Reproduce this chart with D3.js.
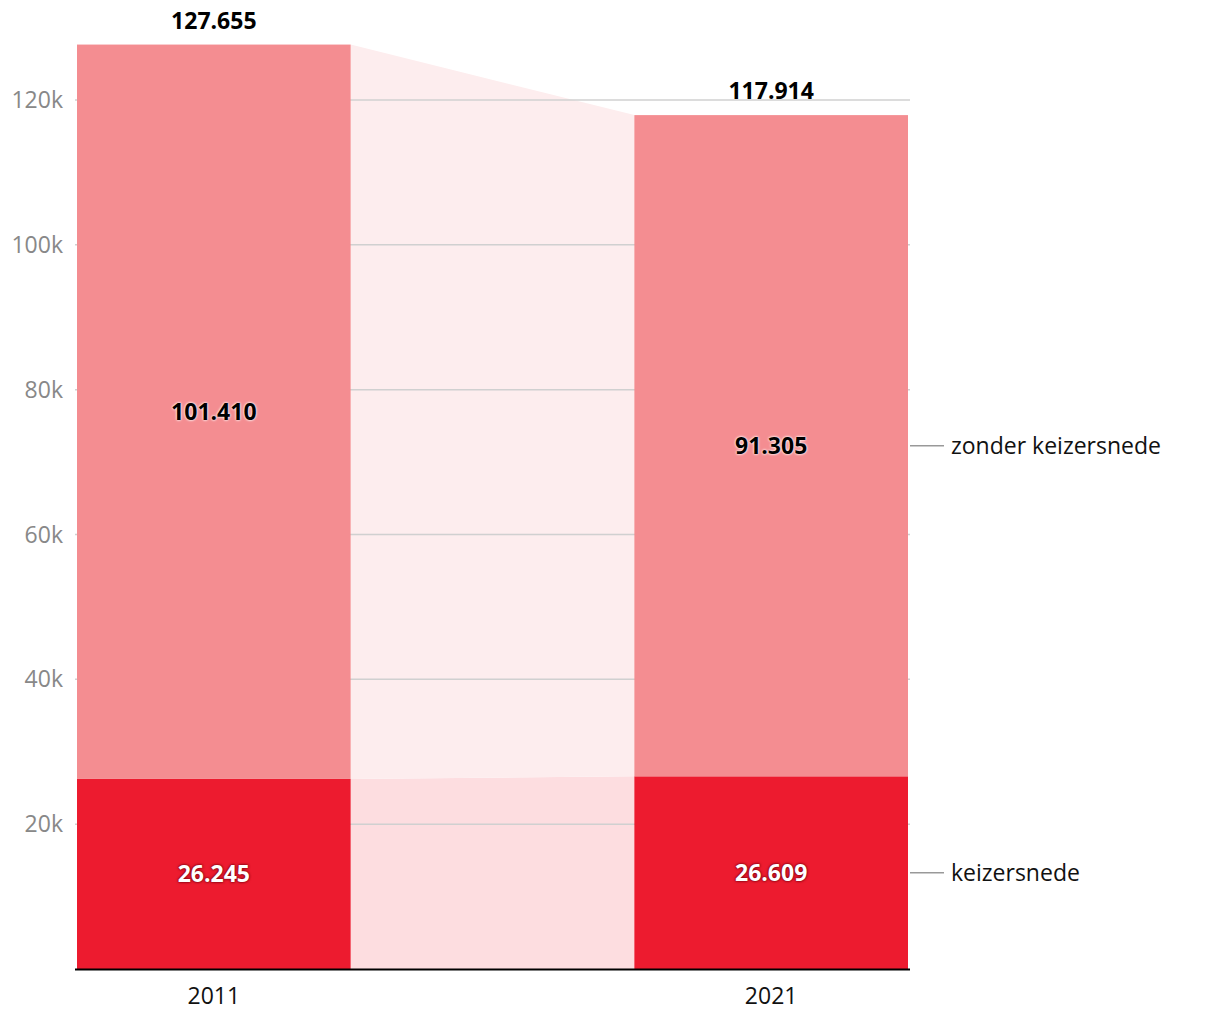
<!DOCTYPE html>
<html><head><meta charset="utf-8">
<script src="https://cdn.jsdelivr.net/npm/d3@7"></script>
<style>
body{margin:0;background:#fff;}
svg text{font-family:"Open Sans",Lato,sans-serif;}
.lbl-dark{text-shadow:0 0 3px #fff,0 0 2px #fff;}
.lbl-light{text-shadow:0 0 3px #7a0010,0 0 2px #7a0010;}
</style></head>
<body>
<svg id="c" width="1220" height="1020"></svg>
<script>
const years = ["2011", "2021"];
const series = ["keizersnede", "zonder keizersnede"];
const keizersnede = [26245, 26609];
const zonderKeizersnede = [101410, 91305];
const totals = [127655, 117914];
const yTicks = [20000, 40000, 60000, 80000, 100000, 120000];

(function () {
const colors = {"keizersnede": "#ed1b2f", "zonder keizersnede": "#f48d91"};
const bandColors = {"keizersnede": "#fddde0", "zonder keizersnede": "#fdedee"};

const nl = d3.formatLocale({decimal: ",", thousands: ".", grouping: [3], currency: ["€", ""]});
const fmt = nl.format(",d");

const svg = d3.select("#c");
const mLeft = 75, mRight = 910, mBottom = 969;

const y = d3.scaleLinear().domain([0, 120000]).range([mBottom, 100]);
const x = d3.scaleBand().domain(years).range([77, 908]).paddingInner(0.509).paddingOuter(0);

const data = years.map((yr, i) => ({year: yr, keizersnede: keizersnede[i], "zonder keizersnede": zonderKeizersnede[i], total: totals[i]}));
const stack = d3.stack().keys(series)(data);

// connector bands
stack.forEach(layer => {
  const d0 = layer[0], d1 = layer[1];
  const x0 = x(years[0]) + x.bandwidth(), x1 = x(years[1]);
  svg.append("path")
    .attr("d", `M${x0},${y(d0[1])}L${x1},${y(d1[1])}L${x1},${y(d1[0])}L${x0},${y(d0[0])}Z`)
    .attr("fill", bandColors[layer.key]);
});

// gridlines
const g = svg.append("g");
g.selectAll("line.grid").data(yTicks).join("line")
  .attr("x1", mLeft).attr("x2", mRight)
  .attr("y1", d => y(d)).attr("y2", d => y(d))
  .attr("stroke", "#d0d0d0").attr("stroke-width", 1.5);
g.selectAll("text.tick").data(yTicks).join("text")
  .attr("x", 63).attr("y", d => y(d)).attr("dy", "0.35em")
  .attr("text-anchor", "end").attr("fill", "#888").attr("font-size", 23)
  .text(d => (d / 1000) + "k");

// bars
stack.forEach(layer => {
  svg.selectAll(null).data(layer).join("rect")
    .attr("x", d => x(d.data.year)).attr("width", x.bandwidth())
    .attr("y", d => y(d[1])).attr("height", d => y(d[0]) - y(d[1]))
    .attr("fill", colors[layer.key]);
});
stack.forEach(layer => {
  svg.selectAll(null).data(layer).join("text")
    .attr("class", layer.key === "keizersnede" ? "lbl-light" : "lbl-dark")
    .attr("x", d => x(d.data.year) + x.bandwidth() / 2)
    .attr("y", d => (y(d[0]) + y(d[1])) / 2).attr("dy", "0.35em")
    .attr("text-anchor", "middle").attr("font-size", 23).attr("font-weight", 700)
    .attr("fill", layer.key === "keizersnede" ? "#fff" : "#000")
    .text(d => fmt(d.data[layer.key]));
});

// totals
svg.selectAll(null).data(data).join("text")
  .attr("x", d => x(d.year) + x.bandwidth() / 2)
  .attr("y", d => y(d.total) - 24).attr("dy", "0.35em")
  .attr("text-anchor", "middle").attr("font-size", 23).attr("font-weight", 700)
  .attr("fill", "#000").text(d => fmt(d.total));

// baseline
svg.append("line").attr("x1", mLeft).attr("x2", mRight).attr("y1", mBottom + 0.5).attr("y2", mBottom + 0.5)
  .attr("stroke", "#000").attr("stroke-width", 2);

// year labels
svg.selectAll(null).data(years).join("text")
  .attr("x", d => x(d) + x.bandwidth() / 2).attr("y", 996).attr("dy", "0.35em")
  .attr("text-anchor", "middle").attr("font-size", 23).attr("fill", "#111").text(d => d);

// series labels on right
const lastIdx = years.length - 1;
stack.forEach(layer => {
  const d = layer[lastIdx];
  const ym = (y(d[0]) + y(d[1])) / 2;
  svg.append("line").attr("x1", 910).attr("x2", 944).attr("y1", ym).attr("y2", ym)
    .attr("stroke", "#999").attr("stroke-width", 1.5);
  svg.append("text").attr("x", 951).attr("y", ym).attr("dy", "0.35em")
    .attr("font-size", 23).attr("fill", "#111").text(layer.key);
});
})();
</script>
</body></html>
